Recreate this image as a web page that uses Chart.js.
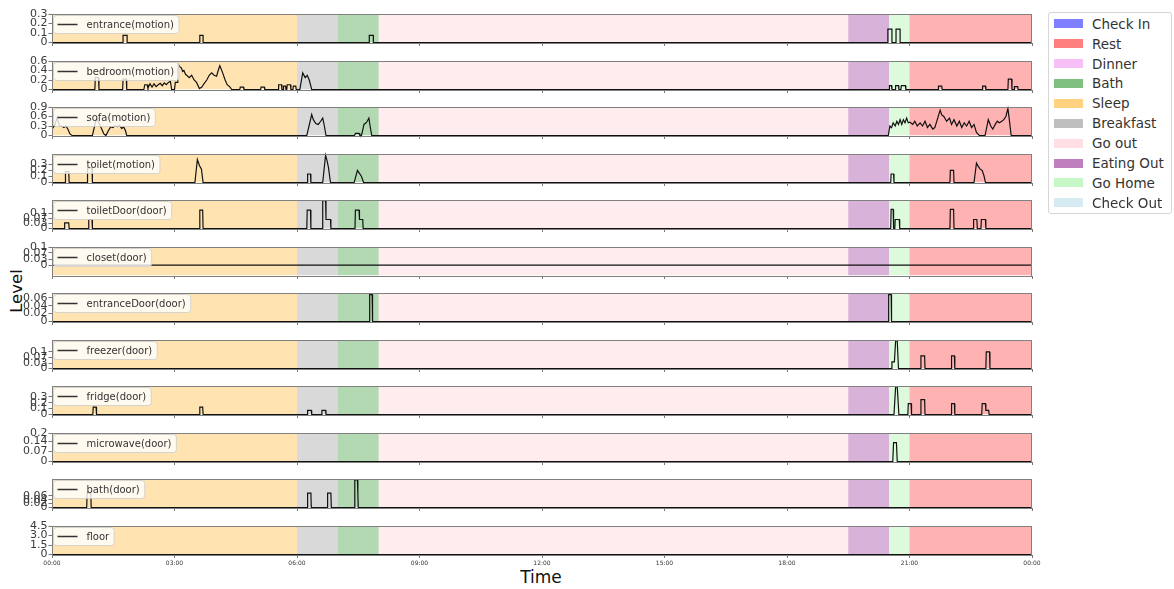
<!DOCTYPE html>
<html><head><meta charset="utf-8">
<script src="https://cdn.jsdelivr.net/npm/chart.js@4.4.0/dist/chart.umd.min.js"></script>
<style>
html,body{margin:0;padding:0;background:#fff;width:1174px;height:589px;overflow:hidden;font-family:"DejaVu Sans",sans-serif;}
#wrap{position:relative;width:1174px;height:589px;}
canvas.panel{position:absolute;left:0;}
#ylabel{position:absolute;left:16px;top:291px;transform:translate(-50%,-50%) rotate(-90deg);font-size:16.5px;color:#111;white-space:nowrap;}
#xlabel{position:absolute;left:541px;top:577px;transform:translate(-50%,-50%);font-size:17px;color:#111;}
#legend{position:absolute;left:1048px;top:12px;width:124px;height:202px;border:1px solid #d6d6d6;border-radius:3px;box-sizing:border-box;background:#fff;}
.lrow{position:absolute;left:0;width:124px;height:20px;}
.lpatch{position:absolute;left:5px;top:5.5px;width:29px;height:9px;}
.ltext{position:absolute;left:43px;top:0;line-height:20px;font-size:13.5px;color:#333;white-space:nowrap;}
</style></head>
<body><div id="wrap">
<div id="ylabel">Level</div>
<div id="xlabel">Time</div>
<div id="legend"></div>
</div>
<script>
// ---------- data ----------
const xTickHours = [0,3,6,9,12,15,18,21,24];
const xTickLabels = ['00:00','03:00','06:00','09:00','12:00','15:00','18:00','21:00','00:00'];

const bandStart = [0, 6, 7, 8, 19.5, 20.5, 21];
const bandEnd = [6, 7, 8, 19.5, 20.5, 21, 24];
const bandActivity = ['Sleep','Breakfast','Bath','Go out','Eating Out','Go Home','Rest'];

const legendActivities = ['Check In','Rest','Dinner','Bath','Sleep','Breakfast','Go out','Eating Out','Go Home','Check Out'];

const sensorNames = ['entrance(motion)','bedroom(motion)','sofa(motion)','toilet(motion)','toiletDoor(door)','closet(door)','entranceDoor(door)','freezer(door)','fridge(door)','microwave(door)','bath(door)','floor'];
const yMin = [0,0,0,0,0,-0.057,0,0,0,0,0,0];
const yMax = [0.3,0.6,0.9,0.47,0.19,0.1,0.072,0.172,0.486,0.2,0.146,4.5];
const yTickValues = [[0,0.1,0.2,0.3],[0,0.2,0.4,0.6],[0,0.3,0.6,0.9],[0,0.1,0.2,0.3],[0,0.033,0.067,0.1],[0,0.033,0.067,0.1],[0,0.02,0.04,0.06],[0,0.033,0.067,0.1],[0,0.1,0.2,0.3],[0,0.07,0.14,0.2],[0,0.02,0.04,0.06],[0,1.5,3,4.5]];
const yTickLabels = [['0','0.1','0.2','0.3'],['0','0.2','0.4','0.6'],['0','0.3','0.6','0.9'],['0','0.1','0.2','0.3'],['0','0.03','0.07','0.1'],['0','0.03','0.07','0.1'],['0','0.02','0.04','0.06'],['0','0.03','0.07','0.1'],['0','0.1','0.2','0.3'],['0','0.07','0.14','0.2'],['0','0.02','0.04','0.06'],['0','1.5','3.0','4.5']];

// [hour, level]
const entranceMotion = [[0,0],[1.74,0],[1.74,0.075],[1.84,0.075],[1.84,0],[3.62,0],[3.62,0.075],[3.70,0.075],[3.70,0],[7.77,0],[7.77,0.075],[7.87,0.075],[7.87,0],[20.47,0],[20.47,0.14],[20.57,0.14],[20.57,0],[20.67,0],[20.67,0.14],[20.77,0.14],[20.77,0],[24,0]];
const bedroomMotion = [[0,0],[1.05,0],[1.06,0.25],[1.14,0.25],[1.15,0],[1.73,0],[1.74,0.22],[1.82,0.22],[1.83,0],[2.25,0],[2.27,0.1],[2.33,0.1],[2.35,0.03],[2.4,0.12],[2.45,0.05],[2.5,0.12],[2.55,0.06],[2.6,0.1],[2.65,0.13],[2.7,0.08],[2.75,0.14],[2.8,0.1],[2.85,0.15],[2.9,0.17],[2.93,0],[3.0,0],[3.02,0.15],[3.08,0.15],[3.09,0.53],[3.13,0.48],[3.17,0.45],[3.2,0.38],[3.23,0.4],[3.27,0.32],[3.3,0.3],[3.36,0.25],[3.42,0.3],[3.48,0.2],[3.54,0.15],[3.61,0.02],[3.67,0.05],[3.72,0.12],[3.79,0.2],[3.85,0.3],[3.91,0.35],[3.97,0.3],[4.03,0.28],[4.07,0.4],[4.11,0.5],[4.18,0.35],[4.24,0.2],[4.29,0.1],[4.36,0.05],[4.4,0],[4.6,0],[4.61,0.05],[4.69,0.05],[4.7,0],[5.11,0],[5.12,0.05],[5.2,0.05],[5.21,0],[5.54,0],[5.55,0.1],[5.62,0.1],[5.63,0],[5.66,0],[5.67,0.07],[5.72,0.07],[5.73,0],[5.75,0],[5.76,0.1],[5.84,0.1],[5.85,0],[5.9,0],[5.91,0.07],[5.97,0.07],[5.98,0],[6.07,0],[6.14,0.35],[6.2,0.25],[6.25,0.3],[6.3,0.2],[6.36,0],[20.5,0],[20.51,0.08],[20.56,0.08],[20.57,0],[20.65,0],[20.66,0.08],[20.73,0.08],[20.74,0],[20.79,0],[20.8,0.08],[20.9,0.08],[20.91,0],[21.7,0],[21.71,0.07],[21.79,0.07],[21.8,0],[22.78,0],[22.79,0.07],[22.86,0.07],[22.87,0],[23.41,0],[23.42,0.22],[23.5,0.22],[23.51,0],[23.56,0],[23.57,0.06],[23.65,0.06],[23.66,0],[24,0]];
const sofaMotion = [[0,0.3],[0.03,0.25],[0.07,0.33],[0.13,0.58],[0.18,0.3],[0.24,0.3],[0.29,0.25],[0.34,0.3],[0.39,0.2],[0.44,0.05],[0.49,0],[0.99,0],[1.09,0.55],[1.13,0.45],[1.22,0.2],[1.27,0.05],[1.32,0],[1.38,0.15],[1.44,0.28],[1.49,0.25],[1.54,0.3],[1.6,0.28],[1.65,0.32],[1.71,0.22],[1.75,0.28],[1.8,0.15],[1.83,0],[6.24,0],[6.36,0.66],[6.4,0.5],[6.46,0.38],[6.52,0.35],[6.58,0.45],[6.63,0.55],[6.67,0.3],[6.71,0],[7.41,0],[7.43,0.07],[7.52,0.07],[7.54,0],[7.58,0],[7.64,0.35],[7.69,0.4],[7.72,0.45],[7.76,0.55],[7.79,0.3],[7.83,0],[20.48,0],[20.52,0.3],[20.56,0.25],[20.6,0.4],[20.65,0.3],[20.69,0.45],[20.73,0.35],[20.77,0.5],[20.81,0.35],[20.85,0.5],[20.89,0.4],[20.93,0.55],[20.97,0.4],[21.01,0.42],[21.08,0.35],[21.13,0.45],[21.19,0.3],[21.26,0.4],[21.32,0.3],[21.38,0.45],[21.44,0.25],[21.5,0.35],[21.57,0.2],[21.62,0.25],[21.68,0.5],[21.75,0.8],[21.79,0.65],[21.84,0.6],[21.91,0.45],[21.98,0.55],[22.03,0.35],[22.09,0.5],[22.16,0.3],[22.22,0.45],[22.28,0.25],[22.34,0.4],[22.4,0.3],[22.46,0.45],[22.52,0.25],[22.58,0.35],[22.64,0.1],[22.71,0],[22.85,0],[22.93,0.5],[22.99,0.3],[23.04,0.2],[23.1,0.35],[23.15,0.45],[23.2,0.4],[23.26,0.45],[23.31,0.5],[23.36,0.6],[23.41,0.85],[23.44,0.55],[23.49,0],[24,0]];
const toiletMotion = [[0,0],[0.32,0],[0.33,0.18],[0.41,0.18],[0.42,0],[0.86,0],[0.87,0.24],[0.98,0.24],[0.99,0],[3.5,0],[3.56,0.38],[3.61,0.28],[3.66,0.22],[3.7,0],[6.25,0],[6.26,0.14],[6.33,0.14],[6.34,0],[6.63,0],[6.7,0.45],[6.74,0.35],[6.77,0.25],[6.82,0],[7.4,0],[7.48,0.2],[7.53,0.15],[7.58,0.1],[7.63,0],[20.54,0],[20.55,0.14],[20.61,0.14],[20.62,0],[21.99,0],[22.0,0.2],[22.08,0.2],[22.09,0],[22.58,0],[22.64,0.32],[22.68,0.27],[22.73,0.22],[22.78,0.2],[22.82,0.12],[22.86,0],[24,0]];
const toiletDoor = [[0,0],[0.3,0],[0.31,0.038],[0.41,0.038],[0.42,0],[0.89,0],[0.9,0.06],[0.98,0.06],[0.99,0],[3.61,0],[3.62,0.123],[3.69,0.123],[3.7,0],[6.24,0],[6.25,0.123],[6.33,0.123],[6.34,0],[6.62,0],[6.63,0.185],[6.7,0.185],[6.71,0.06],[6.82,0.06],[6.83,0],[7.42,0],[7.43,0.123],[7.52,0.123],[7.53,0.06],[7.61,0.06],[7.62,0],[20.54,0],[20.55,0.127],[20.6,0.127],[20.61,0],[20.64,0],[20.65,0.06],[20.75,0.06],[20.76,0],[21.99,0],[22.0,0.127],[22.08,0.127],[22.09,0],[22.56,0],[22.57,0.06],[22.65,0.06],[22.66,0],[22.75,0],[22.76,0.06],[22.86,0.06],[22.87,0],[24,0]];
const closetDoor = [[0,0],[24,0]];
const entranceDoor = [[0,0],[7.77,0],[7.78,0.068],[7.84,0.068],[7.85,0],[20.48,0],[20.49,0.068],[20.55,0.068],[20.56,0],[24,0]];
const freezerDoor = [[0,0],[20.56,0],[20.57,0.04],[20.63,0.04],[20.66,0.166],[20.7,0.166],[20.73,0],[21.27,0],[21.28,0.076],[21.37,0.076],[21.38,0],[22.02,0],[22.03,0.076],[22.1,0.076],[22.11,0],[22.87,0],[22.88,0.1],[22.96,0.1],[22.97,0],[24,0]];
const fridgeDoor = [[0,0],[1.0,0],[1.01,0.127],[1.08,0.127],[1.09,0],[3.61,0],[3.62,0.127],[3.69,0.127],[3.7,0],[6.25,0],[6.26,0.07],[6.35,0.07],[6.36,0],[6.6,0],[6.61,0.07],[6.7,0.07],[6.71,0],[20.62,0],[20.66,0.47],[20.7,0.47],[20.74,0],[20.96,0],[20.97,0.185],[21.04,0.185],[21.05,0],[21.27,0],[21.28,0.255],[21.37,0.255],[21.38,0],[22.02,0],[22.03,0.185],[22.1,0.185],[22.11,0],[22.77,0],[22.78,0.185],[22.86,0.185],[22.87,0.07],[22.94,0.07],[22.95,0],[24,0]];
const microwaveDoor = [[0,0],[20.59,0],[20.61,0.133],[20.68,0.133],[20.7,0],[24,0]];
const bathDoor = [[0,0],[0.85,0],[0.86,0.073],[0.95,0.073],[0.96,0],[6.25,0],[6.26,0.074],[6.34,0.074],[6.35,0],[6.74,0],[6.75,0.074],[6.83,0.074],[6.84,0],[7.4,0],[7.41,0.074],[7.42,0.142],[7.48,0.142],[7.49,0.074],[7.5,0],[24,0]];
const floorLevel = [[0,0],[24,0]];

const sensorSeries = [entranceMotion,bedroomMotion,sofaMotion,toiletMotion,toiletDoor,closetDoor,entranceDoor,freezerDoor,fridgeDoor,microwaveDoor,bathDoor,floorLevel];

// ---------- styles ----------
const activityRGB = {'Check In':[0,0,255],'Rest':[255,0,0],'Dinner':[238,130,238],'Bath':[0,128,0],'Sleep':[255,165,0],'Breakfast':[128,128,128],'Go out':[255,192,203],'Eating Out':[128,0,128],'Go Home':[144,238,144],'Check Out':[173,216,230]};
const rgba = (name,a)=>{const c=activityRGB[name];return `rgba(${c[0]},${c[1]},${c[2]},${a})`;};
const FONT = '"DejaVu Sans", sans-serif';
const PANEL_TOP0 = 14, PANEL_STEP = 46.5, PANEL_H = 28.5, PAD_TOP = 8;

// right legend
const leg = document.getElementById('legend');
legendActivities.forEach((name,i)=>{
  const r = document.createElement('div'); r.className='lrow';
  r.style.top = (22.7 + 19.9*i - 12 - 10) + 'px';
  const p = document.createElement('div'); p.className='lpatch'; p.style.background = rgba(name,0.5);
  const t = document.createElement('div'); t.className='ltext'; t.textContent = name;
  r.appendChild(p); r.appendChild(t); leg.appendChild(r);
});

const panelPlugin = {
  id:'panelDeco',
  beforeDatasetsDraw(chart){
    const {ctx, chartArea:a, scales:{x}} = chart;
    ctx.save();
    ctx.beginPath(); ctx.rect(a.left,a.top,a.right-a.left,a.bottom-a.top); ctx.clip();
    for(let i=0;i<bandStart.length;i++){
      const x0 = x.getPixelForValue(bandStart[i]), x1 = x.getPixelForValue(bandEnd[i]);
      ctx.fillStyle = rgba(bandActivity[i],0.3);
      ctx.fillRect(x0,a.top,x1-x0,a.bottom-a.top);
    }
    ctx.restore();
  },
  afterDatasetsDraw(chart){
    const {ctx, chartArea:a} = chart;
    ctx.save();
    ctx.strokeStyle = '#808080'; ctx.lineWidth = 1;
    ctx.strokeRect(Math.round(a.left)+0.5, Math.round(a.top)+0.5, Math.round(a.right-a.left)-1, Math.round(a.bottom-a.top));
    // legend box
    const label = chart.data.datasets[0].label;
    ctx.font = '10px ' + FONT;
    const tw = ctx.measureText(label).width;
    const bx = a.left+1.5, by = a.top+1.5, bw = 33+tw+5, bh = 18, r = 3;
    ctx.beginPath();
    ctx.moveTo(bx+r,by); ctx.lineTo(bx+bw-r,by); ctx.quadraticCurveTo(bx+bw,by,bx+bw,by+r);
    ctx.lineTo(bx+bw,by+bh-r); ctx.quadraticCurveTo(bx+bw,by+bh,bx+bw-r,by+bh);
    ctx.lineTo(bx+r,by+bh); ctx.quadraticCurveTo(bx,by+bh,bx,by+bh-r);
    ctx.lineTo(bx,by+r); ctx.quadraticCurveTo(bx,by,bx+r,by); ctx.closePath();
    ctx.fillStyle = 'rgba(255,255,255,0.8)'; ctx.fill();
    ctx.strokeStyle = 'rgba(204,204,204,0.8)'; ctx.stroke();
    const cy = by + bh/2;
    ctx.strokeStyle = '#333'; ctx.lineWidth = 1.5;
    ctx.beginPath(); ctx.moveTo(bx+4,cy); ctx.lineTo(bx+24,cy); ctx.stroke();
    ctx.fillStyle = '#333'; ctx.textBaseline = 'middle'; ctx.textAlign='left';
    ctx.fillText(label, bx+33, cy+0.5);
    ctx.restore();
  }
};

const wrap = document.getElementById('wrap');
sensorNames.forEach((name, i)=>{
  const isBottom = i === sensorNames.length-1;
  const xh = isBottom ? 16.5 : 10.5;
  const cv = document.createElement('canvas');
  cv.className = 'panel';
  const h = Math.round(PAD_TOP + PANEL_H + xh);
  cv.width = 1050; cv.height = h;
  cv.style.width = '1050px'; cv.style.height = h+'px';
  cv.style.top = Math.round(PANEL_TOP0 + PANEL_STEP*i - PAD_TOP) + 'px';
  wrap.insertBefore(cv, document.getElementById('legend'));
  const ticksV = yTickValues[i], ticksL = yTickLabels[i];
  new Chart(cv.getContext('2d'), {
    type:'line',
    data:{datasets:[{label:name, data: sensorSeries[i].map(p=>({x:p[0], y:p[1]})), borderColor:'#111', borderWidth:1.2, pointRadius:0, tension:0, fill:false, clip:2}]},
    options:{
      responsive:false, animation:false, devicePixelRatio:1,
      layout:{padding:{top:PAD_TOP, right:18, left:0, bottom:0}},
      plugins:{legend:{display:false}, tooltip:{enabled:false}},
      events:[],
      scales:{
        x:{type:'linear', min:0, max:24,
          afterBuildTicks:s=>{s.ticks = xTickHours.map(v=>({value:v}));},
          afterFit:s=>{s.height = xh;},
          ticks:{autoSkip:false, maxRotation:0, minRotation:0, padding:2, font:{family:FONT, size:6}, color:'#333',
            callback:(v,idx)=> isBottom ? xTickLabels[idx] : ''},
          grid:{display:true, drawOnChartArea:false, drawTicks:true, tickLength:3.5, color:'#777', lineWidth:1},
          border:{display:false}
        },
        y:{type:'linear', min:yMin[i], max:yMax[i],
          afterBuildTicks:s=>{s.ticks = ticksV.map(v=>({value:v}));},
          afterFit:s=>{s.width = 52;},
          ticks:{autoSkip:false, padding:1, font:{family:FONT, size:11}, color:'#3a3a3a',
            callback:(v,idx)=> ticksL[idx]},
          grid:{display:true, drawOnChartArea:false, drawTicks:true, tickLength:3.5, color:'#777', lineWidth:1},
          border:{display:false}
        }
      }
    },
    plugins:[panelPlugin]
  });
});
</script>
</body></html>
